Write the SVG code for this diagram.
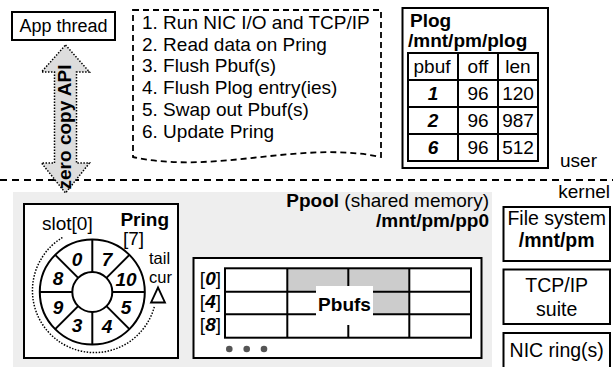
<svg xmlns="http://www.w3.org/2000/svg" width="613" height="367" viewBox="0 0 613 367">
<style>
text{font-family:"Liberation Sans",Arial,Helvetica,sans-serif;font-size:19px;fill:#000}
.b{font-weight:bold}
.bi{font-weight:bold;font-style:italic}
.box{fill:#fff;stroke:#000;stroke-width:2}
.ln{fill:none;stroke:#000;stroke-width:2}
.m{text-anchor:middle}
.e{text-anchor:end}
.s{font-size:16.5px}
</style>
<rect x="13" y="192" width="479" height="180" fill="#eeeeee"/>
<g id="connectors">
<line x1="0" y1="180" x2="613" y2="180" stroke="#000" stroke-width="2" stroke-dasharray="7 5"/>
<polygon points="65.5,45 89.5,72 76.5,72 76.5,163 89.5,163 65.5,193 41.5,163 54.5,163 54.5,72 41.5,72" fill="#dddddd" stroke="#000" stroke-width="1.5" stroke-dasharray="1.5 1.5"/>
<text class="b m" transform="translate(71,127) rotate(-90)">zero copy API</text>
</g>
<g id="app-thread">
<rect class="box" x="12" y="12" width="103" height="28"/>
<text class="m" x="63.5" y="32" style="font-size:18px">App thread</text>
</g>
<g id="steps">
<path d="M133,10 L381,10 L381,157 C300,140 215,175 133,157 Z" fill="#fff" stroke="#000" stroke-width="1.8" stroke-dasharray="6 4"/>
<text x="142" y="29">1. Run NIC I/O and TCP/IP</text>
<text x="142" y="50.7">2. Read data on Pring</text>
<text x="142" y="72.4">3. Flush Pbuf(s)</text>
<text x="142" y="94">4. Flush Plog entry(ies)</text>
<text x="142" y="115.8">5. Swap out Pbuf(s)</text>
<text x="142" y="137.5">6. Update Pring</text>
</g>
<g id="plog">
<rect class="box" x="402.5" y="8" width="145.5" height="160"/>
<text class="b" x="410" y="27">Plog</text>
<text class="b" x="408" y="47">/mnt/pm/plog</text>
<rect class="ln" x="408" y="53" width="130" height="108"/>
<line class="ln" x1="408" y1="80" x2="538" y2="80"/>
<line class="ln" x1="408" y1="107" x2="538" y2="107"/>
<line class="ln" x1="408" y1="134" x2="538" y2="134"/>
<line class="ln" x1="458" y1="53" x2="458" y2="161"/>
<line class="ln" x1="498" y1="53" x2="498" y2="161"/>
<text class="m" x="432" y="73">pbuf</text>
<text class="m" x="478" y="73">off</text>
<text class="m" x="518" y="73">len</text>
<text class="bi m" x="433" y="100">1</text>
<text class="m" x="478" y="100">96</text>
<text class="m" x="518" y="100">120</text>
<text class="bi m" x="433" y="127">2</text>
<text class="m" x="478" y="127">96</text>
<text class="m" x="518" y="127">987</text>
<text class="bi m" x="433" y="154">6</text>
<text class="m" x="478" y="154">96</text>
<text class="m" x="518" y="154">512</text>
</g>
<g id="labels">
<text x="560" y="167">user</text>
<text class="e" x="610" y="198">kernel</text>
</g>
<g id="ppool">
<text class="e" x="489" y="207"><tspan class="b">Ppool</tspan> (shared memory)</text>
<text class="b e" x="489" y="227">/mnt/pm/pp0</text>
</g>
<g id="pring">
<rect class="box" x="24" y="204" width="154" height="154"/>
<text class="b e" x="169" y="226">Pring</text>
<text x="123" y="245">[7]</text>
<text x="42" y="230">slot[0]</text>
<text class="s" x="149" y="264">tail</text>
<text class="s" x="149" y="283">cur</text>
<path d="M62.4,237.5 A62,62 0 1 0 154.5,306" fill="none" stroke="#000" stroke-width="1.5" stroke-dasharray="1.5 1.5"/>
<polygon points="158,287.5 165,302.5 151,302.5" fill="#fff" stroke="#000" stroke-width="1.8"/>
<circle cx="92.3" cy="292" r="52.5" fill="#fff" stroke="#000" stroke-width="2"/>
<circle cx="92.3" cy="292" r="20" fill="#fff" stroke="#000" stroke-width="2"/>
<g stroke="#000" stroke-width="2">
<line x1="112.3" y1="292" x2="144.8" y2="292"/>
<line x1="106.44" y1="306.14" x2="129.42" y2="329.12"/>
<line x1="92.3" y1="312" x2="92.3" y2="344.5"/>
<line x1="78.16" y1="306.14" x2="55.18" y2="329.12"/>
<line x1="72.3" y1="292" x2="39.8" y2="292"/>
<line x1="78.16" y1="277.86" x2="55.18" y2="254.88"/>
<line x1="92.3" y1="272" x2="92.3" y2="239.5"/>
<line x1="106.44" y1="277.86" x2="129.42" y2="254.88"/>
</g>
<text class="bi m" x="77" y="266">0</text>
<text class="bi m" x="107" y="266">7</text>
<text class="bi m" x="126" y="286">10</text>
<text class="bi m" x="126" y="314">5</text>
<text class="bi m" x="107" y="333">4</text>
<text class="bi m" x="77" y="332">3</text>
<text class="bi m" x="58" y="314">9</text>
<text class="bi m" x="58" y="285">8</text>
</g>
<g id="pbufs">
<rect class="box" x="193.5" y="258" width="288" height="100"/>
<rect x="287.3" y="268.3" width="122" height="23.4" fill="#cccccc"/>
<rect x="348.3" y="291.7" width="61" height="22.6" fill="#cccccc"/>
<rect class="ln" x="225" y="268.3" width="246" height="69.4"/>
<line class="ln" x1="225" y1="291.7" x2="471" y2="291.7"/>
<line class="ln" x1="225" y1="314.3" x2="471" y2="314.3"/>
<line class="ln" x1="287.3" y1="268.3" x2="287.3" y2="337.7"/>
<line class="ln" x1="348.3" y1="268.3" x2="348.3" y2="337.7"/>
<line class="ln" x1="409.3" y1="268.3" x2="409.3" y2="337.7"/>
<rect x="316" y="286" width="57" height="39" fill="#fff"/>
<text class="b m" x="344.5" y="311">Pbufs</text>
<text class="e" x="221" y="285">[<tspan class="bi">0</tspan>]</text>
<text class="e" x="221" y="308">[<tspan class="bi">4</tspan>]</text>
<text class="e" x="221" y="331">[<tspan class="bi">8</tspan>]</text>
<g fill="#555">
<circle cx="229.3" cy="349" r="3.3"/>
<circle cx="246.7" cy="349" r="3.3"/>
<circle cx="264" cy="349" r="3.3"/>
</g>
</g>
<g id="file-system">
<rect class="box" x="503.5" y="207" width="106.5" height="54"/>
<text class="m" x="556.7" y="225" style="font-size:19.5px">File system</text>
<text class="b m" x="556.7" y="247" style="font-size:19.5px">/mnt/pm</text>
</g>
<g id="tcpip">
<rect class="box" x="503.5" y="269.5" width="106.5" height="54.5"/>
<text class="m" x="556.7" y="292" style="font-size:19.5px">TCP/IP</text>
<text class="m" x="556.7" y="316" style="font-size:19.5px">suite</text>
</g>
<g id="nic">
<path class="box" d="M503.5,370 V333 H610 V370"/>
<text class="m" x="556.7" y="357" style="font-size:19.5px">NIC ring(s)</text>
</g>
</svg>
